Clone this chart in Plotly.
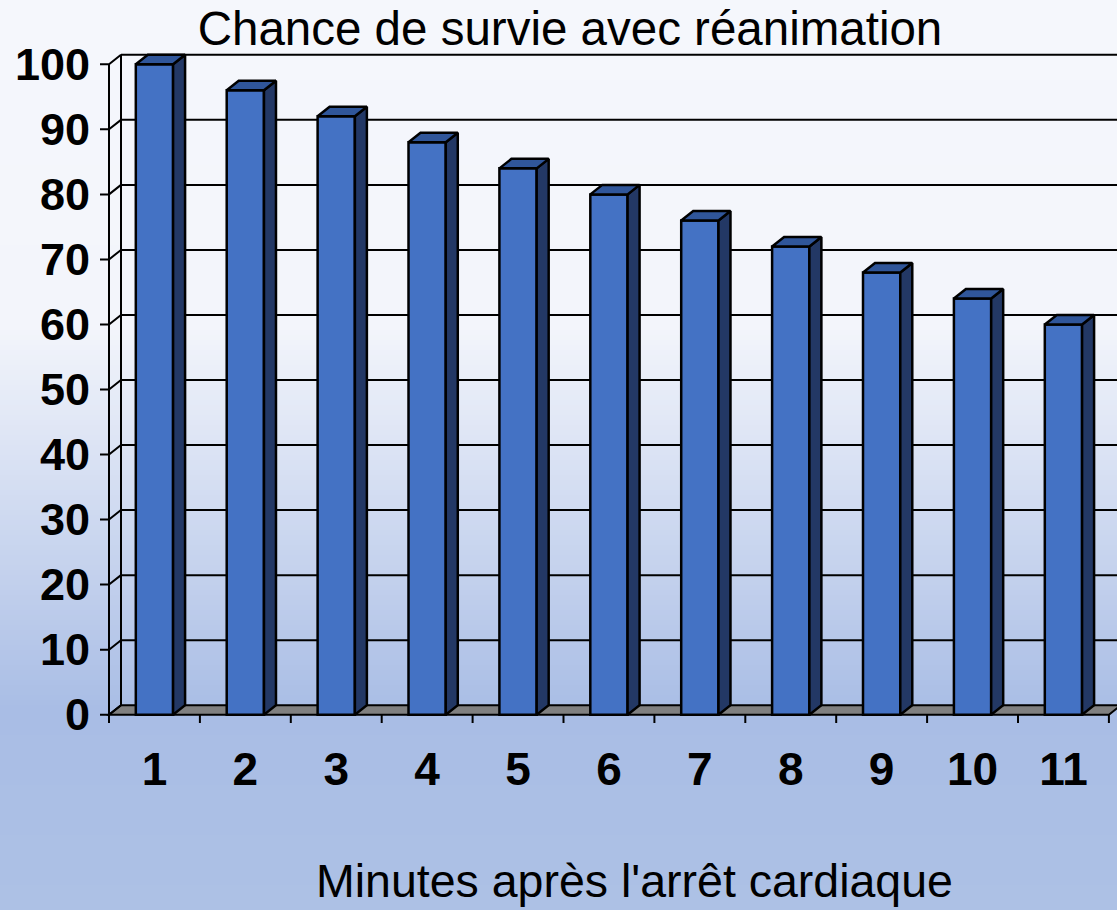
import plotly.graph_objects as go

# ---------------- data ----------------
minutes = [1, 2, 3, 4, 5, 6, 7, 8, 9, 10, 11]
survival = [100, 96, 92, 88, 84, 80, 76, 72, 68, 64, 60]
y_tick_values = [0, 10, 20, 30, 40, 50, 60, 70, 80, 90, 100]
minute_labels = [str(m) for m in minutes]
chart_title = "Chance de survie avec réanimation"
x_title = "Minutes après l'arrêt cardiaque"

# ---------------- geometry / style ----------------
W, H = 1117, 910
ML, MR, MT, MB = 100, 0, 48, 187
PLOT_W = W - ML - MR
PLOT_H = H - MT - MB
X0 = 0.401
X1 = X0 + PLOT_W / 90.9
Y0 = -1.276
Y1 = Y0 + PLOT_H / 6.504
DX = 0.132      # depth offset (x units)
DY = 1.46       # depth offset (y units)
BW = 0.41       # bar front width

FONT = "Liberation Sans, Arial, Helvetica, sans-serif"
FRONT = "#4472C4"
SIDE = "#233865"
TOP = "#30569A"
FLOOR = "#808080"
LW = 2

first_edge = minutes[0] - 0.5
last_edge = minutes[-1] + 0.5

fig = go.Figure()

# ---- background gradient (paper shapes, lowest layer) ----
stops = [(0.0, (245, 247, 252)), (0.36, (243, 245, 251)), (0.78, (169, 189, 229)), (1.0, (173, 193, 229))]


def grad(t):
    for (t0, c0), (t1, c1) in zip(stops[:-1], stops[1:]):
        if t0 <= t <= t1:
            f = 0 if t1 == t0 else (t - t0) / (t1 - t0)
            return tuple(round(a + (b - a) * f) for a, b in zip(c0, c1))
    return stops[-1][1]


def py(px):  # figure pixel y -> paper y
    return (H - MB - px) / PLOT_H


def pxp(px):  # figure pixel x -> paper x
    return (px - ML) / PLOT_W


shapes = []
NB = 182
for k in range(NB):
    top = k * H / NB
    bot = (k + 1) * H / NB + 0.6
    r, g, b = grad((k + 0.5) / NB)
    shapes.append(dict(type="rect", xref="paper", yref="paper", layer="below",
                       x0=pxp(-2), x1=pxp(W + 2), y0=py(bot), y1=py(top),
                       fillcolor=f"rgb({r},{g},{b})", line=dict(width=0)))

line_style = dict(color="black", width=LW)

# floor
shapes.append(dict(type="path", xref="x", yref="y", layer="below",
                   path=f"M {first_edge},0 L {last_edge},0 L {last_edge + DX},{DY} L {first_edge + DX},{DY} Z",
                   fillcolor=FLOOR, line=line_style))
# back wall gridlines
for v in y_tick_values[1:]:
    shapes.append(dict(type="line", xref="x", yref="y", layer="below",
                       x0=first_edge + DX, x1=X1, y0=v + DY, y1=v + DY, line=line_style))
# back wall left edge
shapes.append(dict(type="line", xref="x", yref="y", layer="below",
                   x0=first_edge + DX, x1=first_edge + DX, y0=DY, y1=y_tick_values[-1] + DY, line=line_style))
# tick stubs + depth connectors
for v in y_tick_values:
    shapes.append(dict(type="path", xref="x", yref="y", layer="below",
                       path=f"M {X0},{v} L {first_edge},{v} L {first_edge + DX},{v + DY}", line=line_style))
# front y axis line
shapes.append(dict(type="line", xref="x", yref="y", layer="below",
                   x0=first_edge, x1=first_edge, y0=Y0, y1=y_tick_values[-1], line=line_style))
# category tick marks
for m in minutes + [minutes[-1] + 1]:
    e = m - 0.5
    shapes.append(dict(type="line", xref="x", yref="y", layer="below",
                       x0=e, x1=e, y0=0, y1=Y0, line=line_style))

# ---- bars (front faces) ----
fig.add_trace(go.Bar(x=minutes, y=survival, width=BW, marker=dict(color=FRONT, line=dict(color="black", width=2.5)),
                     hoverinfo="skip", showlegend=False))

# ---- side and top faces ----
sx, sy, tx, ty = [], [], [], []
for m, v in zip(minutes, survival):
    xl, xr = m - BW / 2, m + BW / 2
    sx += [xr, xr + DX, xr + DX, xr, xr, None]
    sy += [0, DY, v + DY, v, 0, None]
    tx += [xl, xr, xr + DX, xl + DX, xl, None]
    ty += [v, v, v + DY, v + DY, v, None]
fig.add_trace(go.Scatter(x=sx, y=sy, mode="lines", fill="toself", fillcolor=SIDE,
                         line=dict(color="black", width=2.5), hoverinfo="skip", showlegend=False))
fig.add_trace(go.Scatter(x=tx, y=ty, mode="lines", fill="toself", fillcolor=TOP,
                         line=dict(color="black", width=2.5), hoverinfo="skip", showlegend=False))

fig.update_layout(
    width=W, height=H,
    margin=dict(l=ML, r=MR, t=MT, b=MB, pad=0),
    paper_bgcolor="#f5f7fc", plot_bgcolor="rgba(0,0,0,0)",
    shapes=shapes,
    showlegend=False,
    title=dict(text=chart_title, x=570 / W, xanchor="center", y=1 - 28 / H, yanchor="middle",
               font=dict(family=FONT, size=47.5, color="black")),
    xaxis=dict(range=[X0, X1], showgrid=False, zeroline=False, showline=False, ticks="",
               tickmode="array", tickvals=minutes, ticktext=minute_labels,
               tickfont=dict(family=FONT, size=46, color="black", weight="bold"),
               ticklabelstandoff=15, fixedrange=True),
    yaxis=dict(range=[Y0, Y1], showgrid=False, zeroline=False, showline=False, ticks="",
               tickmode="array", tickvals=y_tick_values, ticktext=[str(v) for v in y_tick_values],
               tickfont=dict(family=FONT, size=45, color="black", weight="bold"),
               ticklabelstandoff=9, fixedrange=True),
    annotations=[dict(text=x_title, xref="paper", yref="paper", x=pxp(634), y=py(881),
                      xanchor="center", yanchor="middle", showarrow=False,
                      font=dict(family=FONT, size=46.5, color="black"))],
    bargap=0,
)

fig.write_html("out.html", config={"displayModeBar": False, "staticPlot": True},
               post_script="document.body.style.margin='0';document.body.style.overflow='hidden';")
